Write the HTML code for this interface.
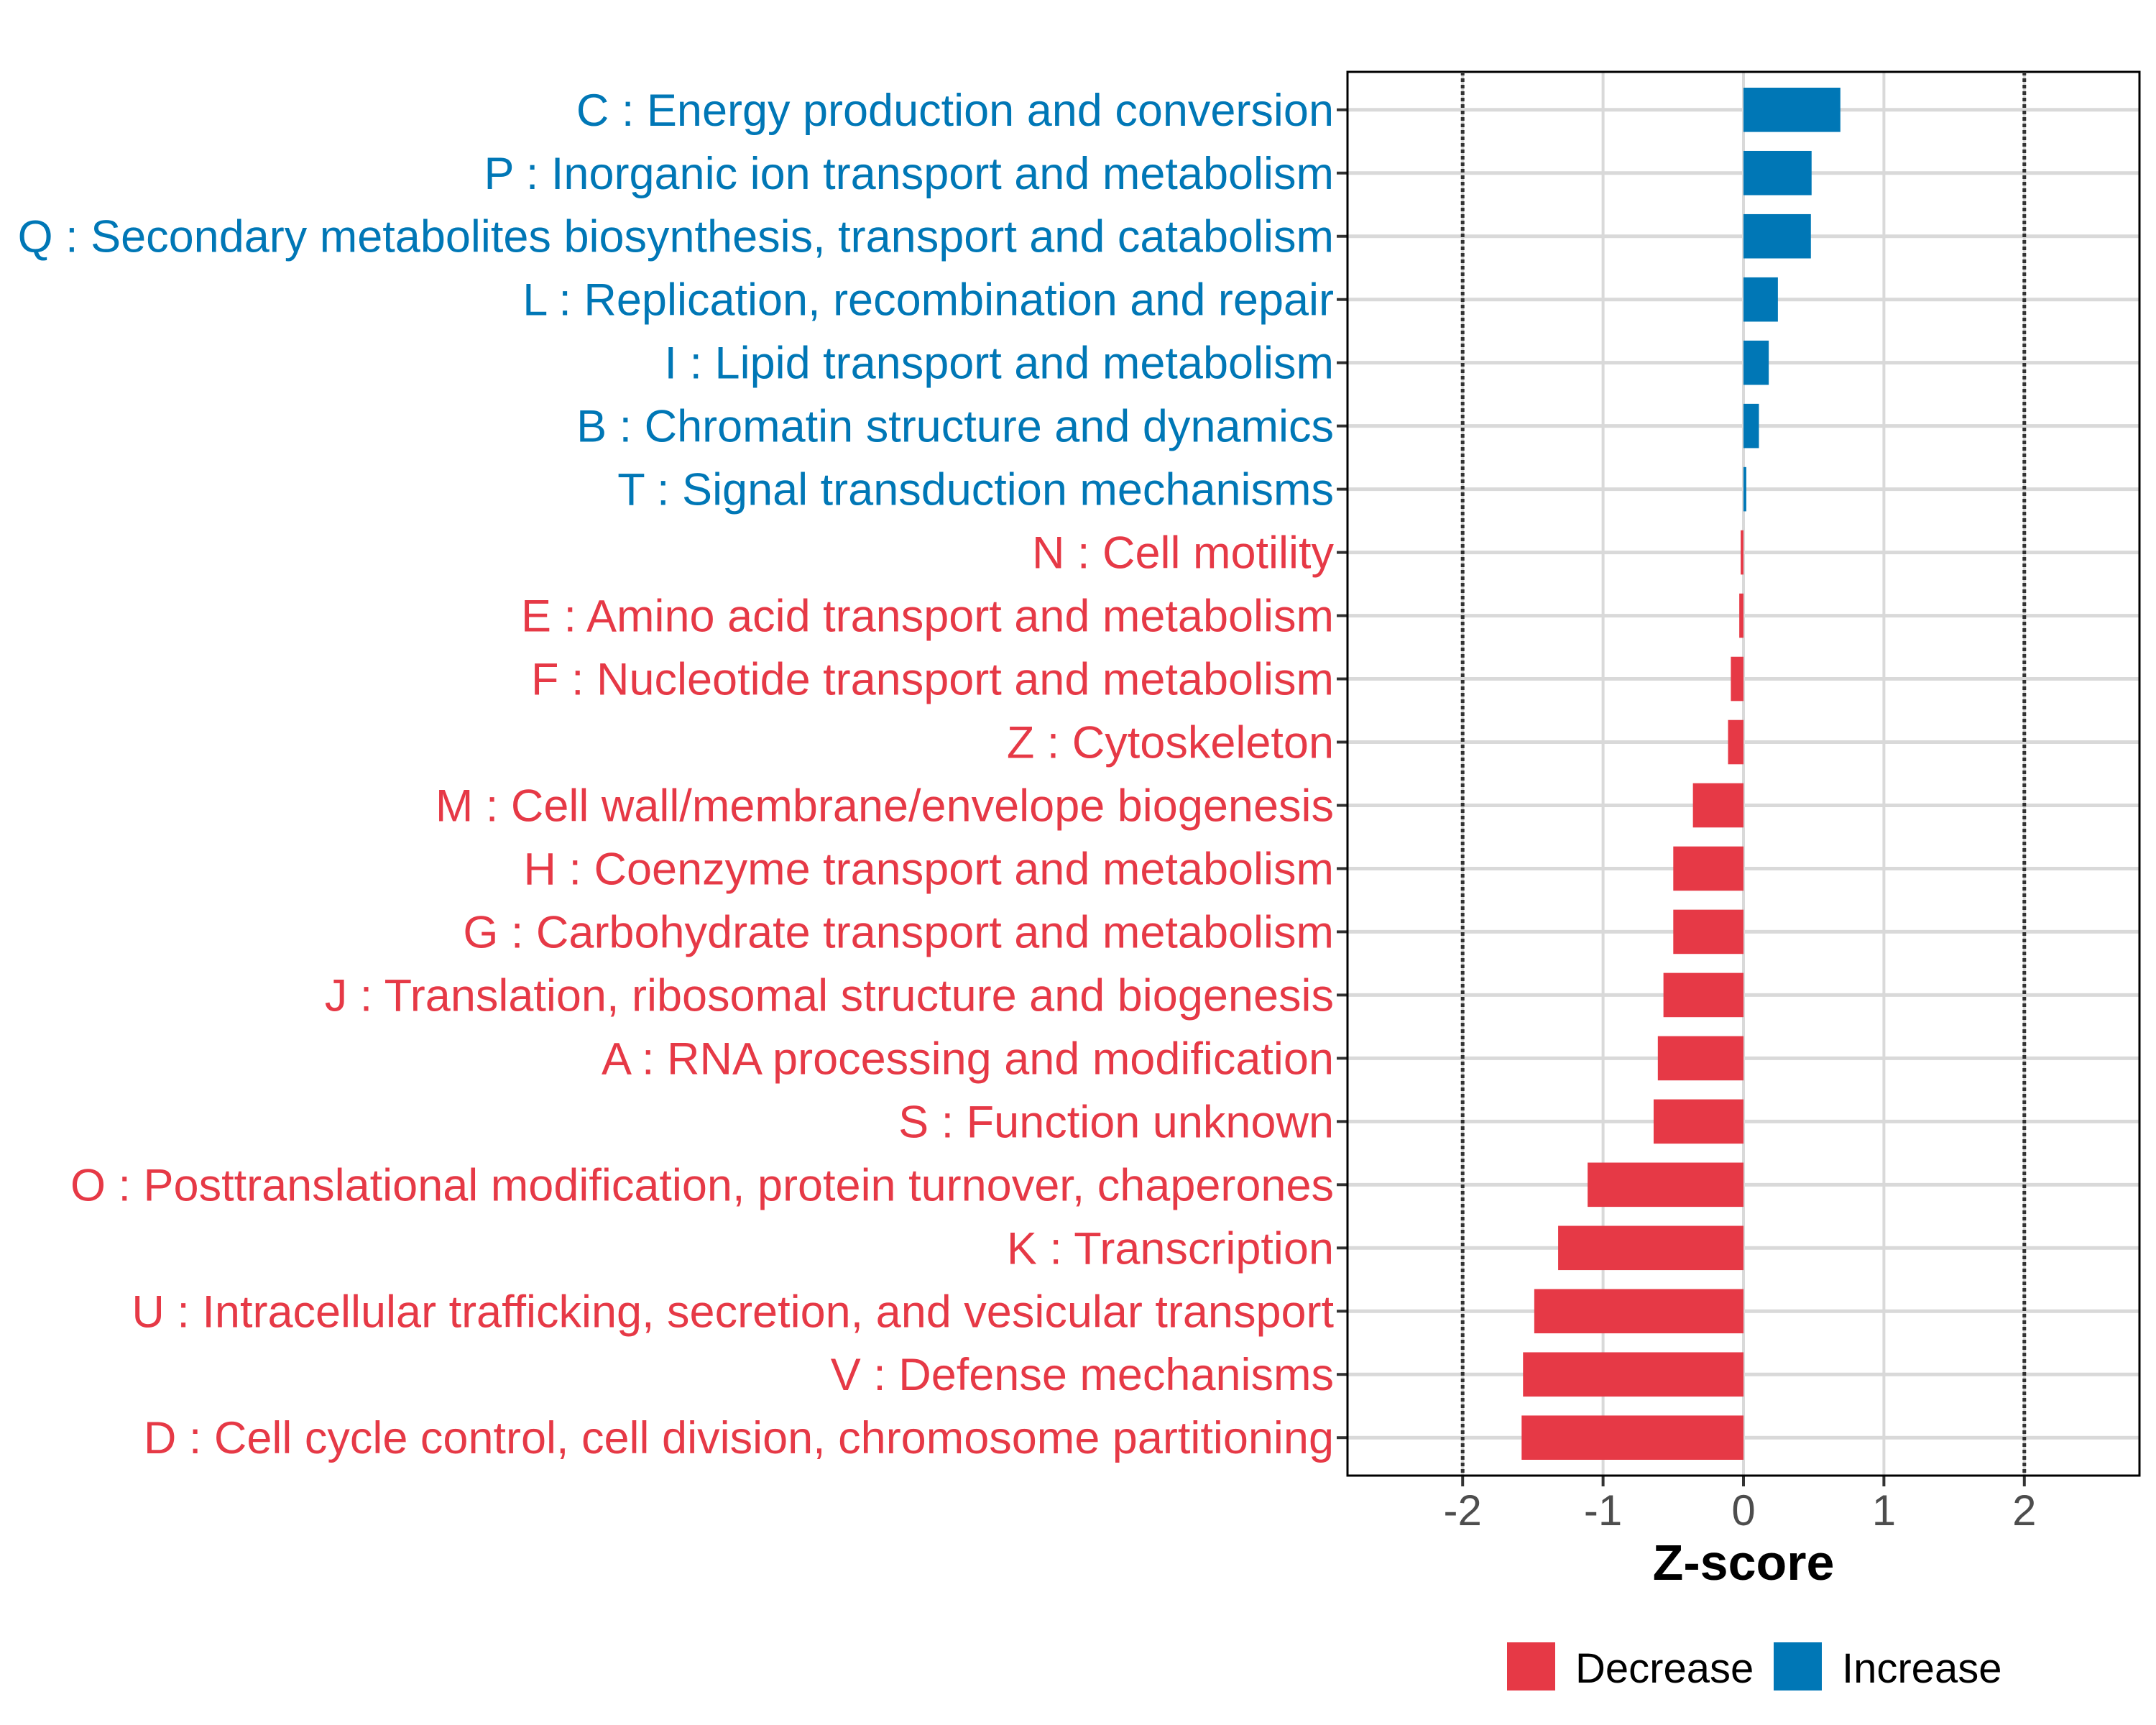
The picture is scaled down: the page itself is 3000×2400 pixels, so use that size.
<!DOCTYPE html>
<html><head><meta charset="utf-8"><style>
html,body{margin:0;padding:0;background:#fff;}
svg{display:block;}
text{font-family:"Liberation Sans",Arial,sans-serif;}
</style></head><body>
<svg id="chart" width="3000" height="2400" viewBox="0 0 3000 2400" xmlns="http://www.w3.org/2000/svg">
<rect x="0" y="0" width="3000" height="2400" fill="#fff"/>
<g id="grid"></g>
<g id="bars"></g>
<g id="ylabels"></g>
<g id="xaxis"></g>
<rect x="1875" y="100" width="1102" height="1953" fill="none" stroke="#000" stroke-width="3"/>
<text x="2426" y="2198" text-anchor="middle" font-size="70" font-weight="bold" fill="#000">Z-score</text>
<g>
<rect x="2097" y="2285" width="67" height="67" fill="#E63946"/>
<text x="2192" y="2341" font-size="58" fill="#000">Decrease</text>
<rect x="2468" y="2285" width="67" height="67" fill="#0077B6"/>
<text x="2563" y="2341" font-size="58" fill="#000">Increase</text>
</g>
</svg>
<script>
const categories = [
"C : Energy production and conversion",
"P : Inorganic ion transport and metabolism",
"Q : Secondary metabolites biosynthesis, transport and catabolism",
"L : Replication, recombination and repair",
"I : Lipid transport and metabolism",
"B : Chromatin structure and dynamics",
"T : Signal transduction mechanisms",
"N : Cell motility",
"E : Amino acid transport and metabolism",
"F : Nucleotide transport and metabolism",
"Z : Cytoskeleton",
"M : Cell wall/membrane/envelope biogenesis",
"H : Coenzyme transport and metabolism",
"G : Carbohydrate transport and metabolism",
"J : Translation, ribosomal structure and biogenesis",
"A : RNA processing and modification",
"S : Function unknown",
"O : Posttranslational modification, protein turnover, chaperones",
"K : Transcription",
"U : Intracellular trafficking, secretion, and vesicular transport",
"V : Defense mechanisms",
"D : Cell cycle control, cell division, chromosome partitioning"
];
const zscores = [0.69,0.485,0.48,0.245,0.18,0.11,0.02,-0.02,-0.03,-0.09,-0.11,-0.36,-0.50,-0.50,-0.57,-0.61,-0.64,-1.11,-1.32,-1.49,-1.57,-1.58];
const xTicks = [-2,-1,0,1,2];
const xTickLabels = ["-2","-1","0","1","2"];
const thresholds = [-2,2];

const NS="http://www.w3.org/2000/svg";
const panel={l:1875,r:2977,t:100,b:2053};
const xmin=-2.82, xmax=2.82;
function xs(v){return panel.l+(v-xmin)/(xmax-xmin)*(panel.r-panel.l);}
const n=categories.length;
const step=(panel.b-panel.t)/(n+0.2);
function ys(i){return panel.t+step*(0.6+i);}
function mk(tag,attrs,parent){const e=document.createElementNS(NS,tag);for(const k in attrs)e.setAttribute(k,attrs[k]);parent.appendChild(e);return e;}
const grid=document.getElementById('grid'),bars=document.getElementById('bars'),yl=document.getElementById('ylabels'),xa=document.getElementById('xaxis');
const svg=document.getElementById('chart');
xTicks.forEach(v=>{
  const g=mk('line',{x1:xs(v),x2:xs(v),y1:panel.t,y2:panel.b,stroke:'#D9D9D9','stroke-width':4},grid);
  
  
});
categories.forEach((c,i)=>{
  const g=mk('line',{x1:panel.l,x2:panel.r,y1:ys(i),y2:ys(i),stroke:'#D9D9D9','stroke-width':5},grid);
  
  
});
thresholds.forEach(v=>{
  const d=mk('line',{x1:xs(v),x2:xs(v),y1:panel.t,y2:panel.b,stroke:'#333','stroke-width':5,'stroke-dasharray':'5 4'},svg);
  
  
});
const bh=step*0.7;
categories.forEach((c,i)=>{
  const v=zscores[i];
  const col=v>=0?'#0077B6':'#E63946';
  const x0=Math.min(xs(0),xs(v)), w=Math.abs(xs(v)-xs(0));
  const b=mk('rect',{x:x0,y:ys(i)-bh/2,width:Math.max(w,1),height:bh,fill:col},bars);
  
  
  const t=mk('text',{x:1856,y:ys(i)+22,'text-anchor':'end','font-size':63,fill:col},yl);
  t.textContent=c;
  
  
  const tk=mk('line',{x1:panel.l-15,x2:panel.l,y1:ys(i),y2:ys(i),stroke:'#333','stroke-width':4},yl);
  
  
});
xTicks.forEach((v,i)=>{
  const tk=mk('line',{x1:xs(v),x2:xs(v),y1:panel.b,y2:panel.b+15,stroke:'#333','stroke-width':4},xa);
  
  
  const t=mk('text',{x:xs(v),y:2122,'text-anchor':'middle','font-size':60,fill:'#4D4D4D'},xa);
  t.textContent=xTickLabels[i];
  
  
});
</script>
</body></html>
